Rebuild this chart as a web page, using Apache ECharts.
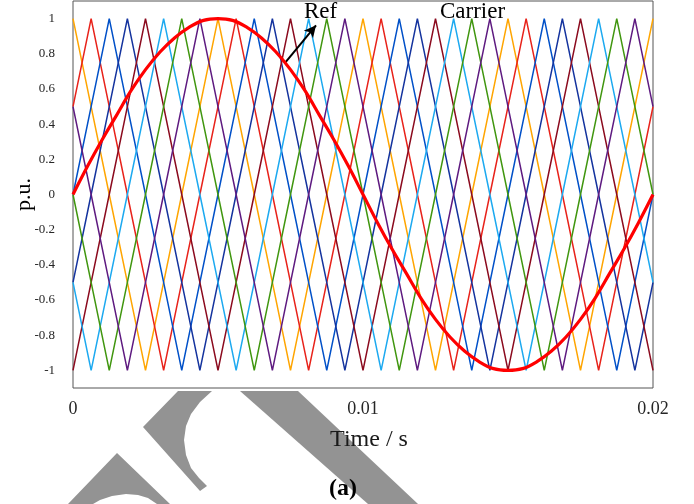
<!DOCTYPE html>
<html>
<head>
<meta charset="utf-8">
<script src="https://cdn.jsdelivr.net/npm/echarts@6/dist/echarts.min.js"></script>
<style>html,body{margin:0;padding:0;background:#fff;}#c{width:694px;height:504px;}</style>
</head>
<body>
<div id="c"></div>
<script>
// ---- data ----
const carrierTimes = [0,0.000625,0.00125,0.001875,0.0025,0.003125,0.00375,0.004375,0.005,0.005625,0.00625,0.006875,0.0075,0.008125,0.00875,0.009375,0.01,0.010625,0.01125,0.011875,0.0125,0.013125,0.01375,0.014375,0.015,0.015625,0.01625,0.016875,0.0175,0.018125,0.01875,0.019375,0.02];
const carrier1 = [1,0.5,0,-0.5,-1,-0.5,0,0.5, 1,0.5,0,-0.5,-1,-0.5,0,0.5, 1,0.5,0,-0.5,-1,-0.5,0,0.5, 1,0.5,0,-0.5,-1,-0.5,0,0.5, 1];
const carrier2 = [0.5,1,0.5,0,-0.5,-1,-0.5,0, 0.5,1,0.5,0,-0.5,-1,-0.5,0, 0.5,1,0.5,0,-0.5,-1,-0.5,0, 0.5,1,0.5,0,-0.5,-1,-0.5,0, 0.5];
const carrier3 = [0,0.5,1,0.5,0,-0.5,-1,-0.5, 0,0.5,1,0.5,0,-0.5,-1,-0.5, 0,0.5,1,0.5,0,-0.5,-1,-0.5, 0,0.5,1,0.5,0,-0.5,-1,-0.5, 0];
const carrier4 = [-0.5,0,0.5,1,0.5,0,-0.5,-1, -0.5,0,0.5,1,0.5,0,-0.5,-1, -0.5,0,0.5,1,0.5,0,-0.5,-1, -0.5,0,0.5,1,0.5,0,-0.5,-1, -0.5];
const carrier5 = [-1,-0.5,0,0.5,1,0.5,0,-0.5, -1,-0.5,0,0.5,1,0.5,0,-0.5, -1,-0.5,0,0.5,1,0.5,0,-0.5, -1,-0.5,0,0.5,1,0.5,0,-0.5, -1];
const carrier6 = [-0.5,-1,-0.5,0,0.5,1,0.5,0, -0.5,-1,-0.5,0,0.5,1,0.5,0, -0.5,-1,-0.5,0,0.5,1,0.5,0, -0.5,-1,-0.5,0,0.5,1,0.5,0, -0.5];
const carrier7 = [0,-0.5,-1,-0.5,0,0.5,1,0.5, 0,-0.5,-1,-0.5,0,0.5,1,0.5, 0,-0.5,-1,-0.5,0,0.5,1,0.5, 0,-0.5,-1,-0.5,0,0.5,1,0.5, 0];
const carrier8 = [0.5,0,-0.5,-1,-0.5,0,0.5,1, 0.5,0,-0.5,-1,-0.5,0,0.5,1, 0.5,0,-0.5,-1,-0.5,0,0.5,1, 0.5,0,-0.5,-1,-0.5,0,0.5,1, 0.5];
const refTimes = [0,0.0005,0.001,0.0015,0.002,0.0025,0.003,0.0035,0.004,0.0045,0.005,0.0055,0.006,0.0065,0.007,0.0075,0.008,0.0085,0.009,0.0095,0.01,0.0105,0.011,0.0115,0.012,0.0125,0.013,0.0135,0.014,0.0145,0.015,0.0155,0.016,0.0165,0.017,0.0175,0.018,0.0185,0.019,0.0195,0.02];
const refValues = [0,0.16,0.31,0.45,0.59,0.71,0.81,0.89,0.95,0.99,1,0.99,0.95,0.89,0.81,0.71,0.59,0.45,0.31,0.16,0,-0.16,-0.31,-0.45,-0.59,-0.71,-0.81,-0.89,-0.95,-0.99,-1,-0.99,-0.95,-0.89,-0.81,-0.71,-0.59,-0.45,-0.31,-0.16,0];
const xTicks = [0, 0.01, 0.02];
const xTickLabels = ['0', '0.01', '0.02'];
const yTicks = [-1,-0.8,-0.6,-0.4,-0.2,0,0.2,0.4,0.6,0.8,1];
const yTickLabels = ['-1','-0.8','-0.6','-0.4','-0.2','0','0.2','0.4','0.6','0.8','1'];
const refArrow = [[0.00731, 0.748], [0.00838, 0.962]];

// ---- styles ----
const carriers = [carrier1, carrier2, carrier3, carrier4, carrier5, carrier6, carrier7, carrier8];
const carrierColors = ['#FFA500', '#E8221A', '#0050C8', '#14339E', '#8B0A1E', '#1CA9F0', '#40960F', '#5E1A80'];
const serif = "'Liberation Serif', 'Times New Roman', serif";
const gray = '#939393';

const series = carriers.map((vals, i) => ({
  type: 'line',
  name: 'Carrier ' + (i + 1),
  data: carrierTimes.map((t, k) => [t, vals[k]]),
  symbol: 'none',
  lineStyle: { color: carrierColors[i], width: 1.5 },
  z: 2,
  silent: true
}));
series.push({
  type: 'line',
  name: 'Ref',
  data: refTimes.map((t, k) => [t, refValues[k]]),
  symbol: 'none',
  smooth: 0.4,
  lineStyle: { color: '#FF0000', width: 3.2 },
  z: 5,
  silent: true,
  markLine: {
    silent: true,
    symbol: ['none', 'arrow'],
    symbolSize: [9, 12],
    label: { show: false },
    lineStyle: { color: '#000', width: 2, type: 'solid' },
    data: [[{ coord: refArrow[0] }, { coord: refArrow[1] }]]
  }
});

const chart = echarts.init(document.getElementById('c'));
chart.setOption({
  animation: false,
  backgroundColor: '#fff',
  grid: { left: 73, right: 41, top: 1, bottom: 116, containLabel: false, outerBoundsMode: 'none',
    show: true, borderColor: '#555', borderWidth: 1, backgroundColor: 'transparent' },
  xAxis: {
    type: 'value', min: 0, max: 0.02, z: 5,
    name: 'Time / s', nameLocation: 'middle', nameGap: 40, nameMoveOverlap: false,
    nameTextStyle: { fontFamily: serif, fontSize: 24, color: '#1a1a1a', padding: [0, 0, 0, 12] },
    axisLine: { show: false },
    splitLine: { show: false },
    axisTick: { show: true, inside: true, length: 6, customValues: [0.01], lineStyle: { color: '#555' } },
    axisLabel: { customValues: xTicks, margin: 12, fontFamily: serif, fontSize: 18, color: '#262626',
      formatter: v => xTickLabels[xTicks.indexOf(v)] !== undefined ? xTickLabels[xTicks.indexOf(v)] : '' }
  },
  yAxis: {
    type: 'value', min: -1.1, max: 1.1,
    name: 'p.u.', nameLocation: 'middle', nameGap: 38, nameRotate: 90, nameMoveOverlap: false,
    nameTextStyle: { fontFamily: serif, fontSize: 22, color: '#000' },
    axisLine: { show: false },
    splitLine: { show: false },
    axisTick: { show: false },
    axisLabel: { customValues: yTicks, margin: 18, fontFamily: serif, fontSize: 13, color: '#262626',
      formatter: v => { const i = yTicks.findIndex(y => Math.abs(y - v) < 1e-9); return i >= 0 ? yTickLabels[i] : ''; } }
  },
  title: {
    text: '(a)', left: 338, top: 472, textAlign: 'center',
    textStyle: { fontFamily: serif, fontSize: 24, fontWeight: 'bold', color: '#000' }
  },
  graphic: [
    { type: 'polygon', z: -1, silent: true, shape: { points: [[178,391],[212,391],[200,402],[191,414],[186,426],[184,440],[186,455],[191,468],[199,478],[207,486],[200,491],[143,427]] }, style: { fill: gray } },
    { type: 'polygon', z: -1, silent: true, shape: { points: [[117,453],[170,504],[157,504],[148,498],[138,495],[126,494],[112,496],[100,500],[93,504],[68,504]] }, style: { fill: gray } },
    { type: 'polygon', z: -1, silent: true, shape: { points: [[240,391],[298,391],[418,504],[368,504]] }, style: { fill: gray } },
    { type: 'text', z: 10, silent: true, x: 304, y: 12, style: { text: 'Ref', font: "23px 'Liberation Serif', serif", fill: '#000', textVerticalAlign: 'middle' } },
    { type: 'text', z: 10, silent: true, x: 440, y: 12, style: { text: 'Carrier', font: "23px 'Liberation Serif', serif", fill: '#000', textVerticalAlign: 'middle' } }
  ],
  series: series
});
</script>
</body>
</html>
